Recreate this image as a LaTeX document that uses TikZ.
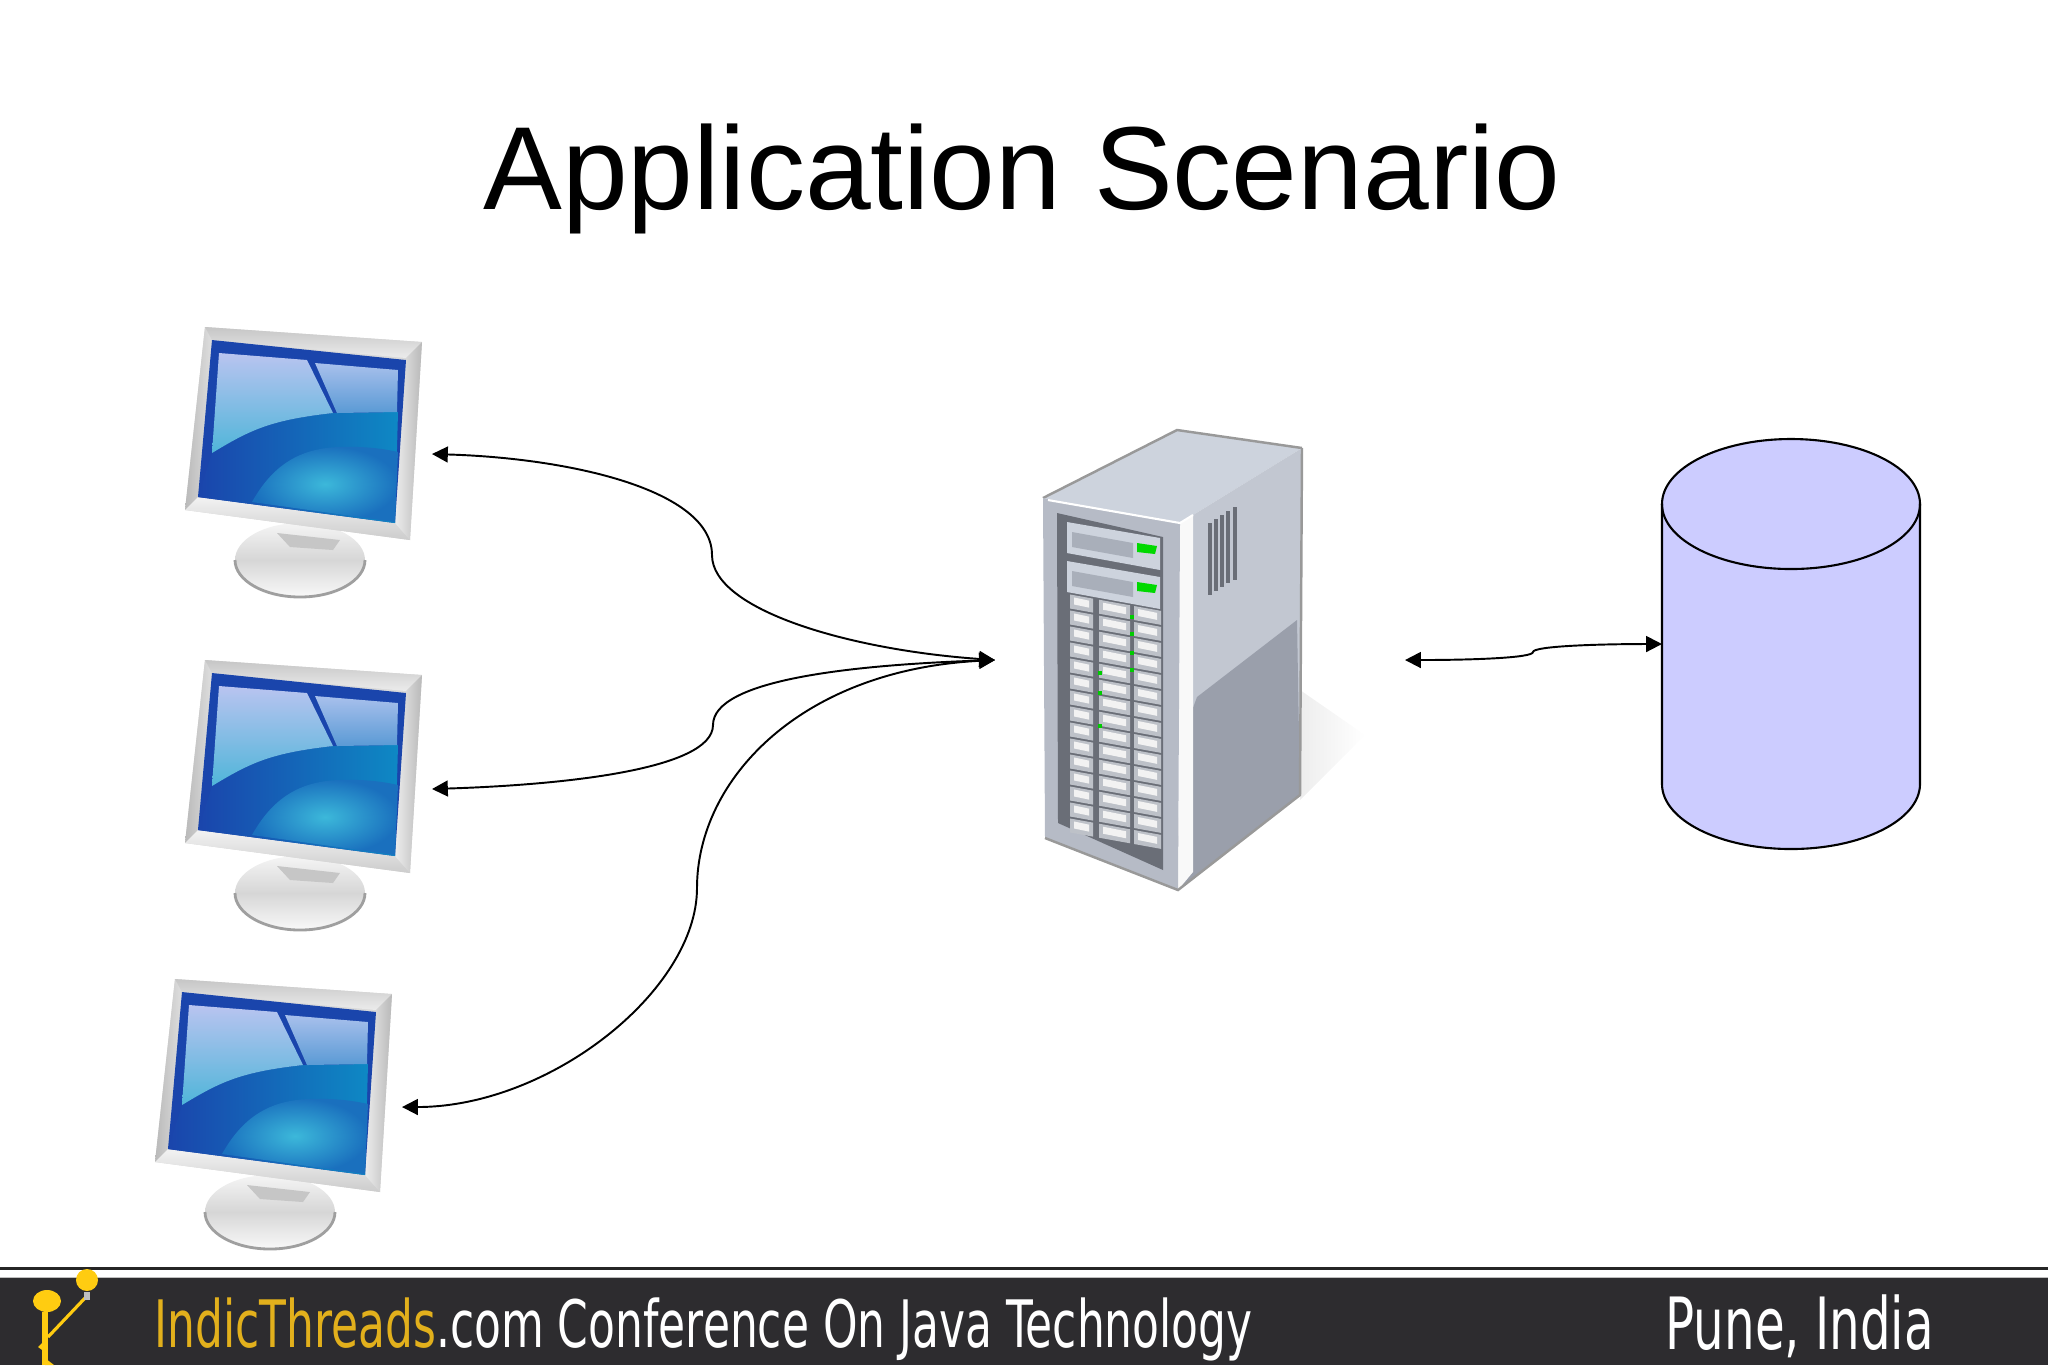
\documentclass[tikz,border=0pt]{standalone}
\usepackage{xcolor}
\usepackage{fontspec}
\setmainfont{Liberation Sans}
\newfontfamily\barfont{DejaVu Sans}
\usepackage{tikz}
\usetikzlibrary{calc, positioning, arrows.meta}

\definecolor{barbg}{HTML}{2D2C2F}
\definecolor{gold}{HTML}{E2B01C}
\definecolor{sun}{HTML}{FFCC11}
\definecolor{dbfill}{HTML}{CCCCFF}
\definecolor{navy}{HTML}{1A45AC}
\definecolor{teal}{HTML}{0E88C4}
\definecolor{srvtop}{HTML}{CDD3DD}
\definecolor{srvside}{HTML}{C2C7D1}
\definecolor{srvlow}{HTML}{9A9FAB}
\definecolor{srvfront}{HTML}{B6BBC6}
\definecolor{srvdark}{HTML}{6A6E77}
\definecolor{srvcell}{HTML}{BDC1C8}

\tikzset{
    link/.style={line width=0.55pt},
    bartext/.style={anchor=base west, inner sep=0pt, text=white, font=\barfont},
    pc/.pic={
        % foot
        \shade[top color=gray!8, bottom color=gray!5, middle color=gray!32] (300,560) ellipse (65 and 37);
        \draw[gray!75, line width=0.8pt] (235,560) arc (180:0:65 and 37);
        \fill[gray!45] (277,533) -- (340,540) -- (333,550) -- (290,547) -- cycle;
        % frame
        \fill[gray!30] (205,327) -- (422,342) -- (410,540) -- (185,510) -- cycle;
        \shade[left color=gray!55, right color=gray!15] (205,327) -- (222,340) -- (198,505) -- (185,510) -- cycle;
        \shade[top color=gray!45, bottom color=gray!15] (205,327) -- (422,342) -- (406,358) -- (212,340) -- cycle;
        \shade[top color=gray!10, bottom color=gray!40] (185,510) -- (198,497) -- (395,523) -- (410,540) -- cycle;
        \shade[left color=gray!15, right color=gray!55] (406,358) -- (422,342) -- (410,540) -- (395,523) -- cycle;
        % screen
        \fill[navy] (212,340) -- (406,360) -- (395,523) -- (198,497) -- cycle;
        \shade[left color=navy, right color=teal] (212,453) .. controls (250,430) and (270,420) .. (333,413) -- (398,412) -- (395,523) -- (198,497) -- cycle;
        \shade[top color={rgb,255:red,185;green,196;blue,240}, bottom color={rgb,255:red,79;green,181;blue,217}] (219,353) -- (307,360) -- (333,413) .. controls (270,420) and (250,430) .. (212,453) -- cycle;
        \shade[top color={rgb,255:red,168;green,192;blue,236}, bottom color={rgb,255:red,90;green,154;blue,213}] (315,363) -- (398,370) -- (397,412) -- (337,413) -- cycle;
        \shade[inner color={rgb,255:red,60;green,184;blue,218}, outer color={rgb,255:red,26;green,112;blue,190}] (252,502) .. controls (270,470) and (295,448) .. (340,447) .. controls (365,446) and (385,449) .. (398,452) -- (395,522) -- cycle;
    }
}

\begin{document}
\begin{tikzpicture}[x=0.01cm, y=-0.01cm, >={Triangle[length=4.5pt,width=4.5pt]}]
    \useasboundingbox (0,0) rectangle (2048,1365);

    % --- title ---
    \node[anchor=base, inner sep=0pt, font=\fontsize{33.6}{40}\selectfont] (title) at (1022,209) {Application Scenario};

    % --- computers ---
    \pic at (0,0) {pc};
    \pic at (0,333) {pc};
    \pic at (-30,652) {pc};

    % --- server ---
    \shade[left color=black!7, right color=white] (1300,690) -- (1365,735) -- (1300,800) -- cycle;
    \fill[srvtop] (1043,498) -- (1177,430) -- (1302,448) -- (1193,515) -- (1180,523) -- cycle;
    \draw[gray!80, line width=0.7pt] (1043,498) -- (1177,430) -- (1302,448);
    \fill[srvside] (1193,515) -- (1302,448) -- (1300,795) -- (1193,872) -- cycle;
    \fill[srvlow] (1297,620) -- (1197,697) -- (1180,743) -- (1178,890) -- (1300,795) -- cycle;
    \fill[gray!5] (1180,523) -- (1193,515) -- (1193,872) -- (1178,890) -- cycle;
    \fill[srvfront] (1043,498) -- (1180,523) -- (1178,890) -- (1045,838) -- cycle;
    \draw[white, line width=0.6pt] (1048,500) -- (1180,523) -- (1193,515);
    \draw[gray!80, line width=0.7pt] (1045,838) -- (1178,890) -- (1300,795) -- (1302,448);
    \fill[srvdark] (1057,513) -- (1163,537) -- (1163,870) -- (1058,823) -- cycle;
    % vents
    \foreach \vx/\vt/\vb in {1210/523/595, 1216/519/591, 1222/515/587, 1228/511/583, 1235/507/580}
        \draw[srvdark, line width=0.9pt] (\vx,\vt) -- (\vx,\vb);
    % bays
    \foreach \dy in {0,39} {
        \fill[srvtop] (1067,522+\dy) -- (1160,538+\dy) -- (1160,570+\dy) -- (1067,553+\dy) -- cycle;
        \fill[srvlow!70!srvtop] (1072,532+\dy) -- (1133,543+\dy) -- (1133,558+\dy) -- (1072,547+\dy) -- cycle;
        \fill[green!85!black] (1137,543+\dy) -- (1157,546+\dy) -- (1155,554+\dy) -- (1137,552+\dy) -- cycle;
    }
    % drives
    \foreach \cx/\cw in {1070/23, 1099/31, 1134/27}
        \foreach \row in {0,...,14} {
            \fill[srvcell] (\cx,595+\row*16+\cx*0.18-1073*0.18) -- ++(\cw,\cw*0.18) -- ++(0,14) -- ++(-\cw,-\cw*0.18) -- cycle;
            \fill[white!90!gray] (\cx+4,598+\row*16+\cx*0.18-1073*0.18) -- ++(\cw-8,\cw*0.18-1) -- ++(0,7) -- ++(-\cw+8,-\cw*0.18+1) -- cycle;
        }
    \foreach \lx/\ly in {1132/617, 1132/634, 1132/653, 1132/670, 1100/673, 1100/693, 1100/726}
        \fill[green!80!black] (\lx-2,\ly-2) rectangle (\lx+2,\ly+2);

    % --- database ---
    \def\dbx{1662} \def\dbw{1920}
    \filldraw[fill=dbfill, draw=black, line width=0.6pt] (\dbx,504) arc (180:360:129 and 65) -- (\dbw,784) arc (0:180:129 and 65) -- cycle;
    \draw[line width=0.6pt] (\dbx,504) arc (180:0:129 and 65);

    % --- ends of the links ---
    \coordinate (srv) at (995,660);
    \coordinate (srvr) at (1405,660);
    \coordinate (pca) at (432,454);
    \coordinate (pcb) at (432,789);
    \coordinate (pcc) at (402,1107);
    \coordinate (dbin) at (1662,644);

    \draw[link, <->] (pca) .. controls (570,458) and (712,490) .. (712,555) .. controls (712,610) and (850,650) .. (srv);
    \draw[link, <->] (pcb) .. controls (560,785) and (713,770) .. (713,725) .. controls (713,680) and (850,665) .. (srv);
    \draw[link, <->] (pcc) .. controls (550,1107) and (697,990) .. (697,888) .. controls (697,780) and (800,670) .. (srv);
    \draw[link, <->] (srvr) .. controls (1470,660) and (1533,658) .. (1533,652) .. controls (1533,646) and (1600,644) .. (dbin);

    % --- footer ---
    \fill[black!85] (0,1267) rectangle (2048,1270);
    \fill[barbg] (0,1278) rectangle (2048,1365);
    \draw[gray!50, line width=0.4pt] (0,1277.5) -- (2048,1277.5);
    \fill[sun] (47,1301) ellipse (14 and 11);
    \draw[sun, line width=1.5pt] (45,1312) -- (45,1365);
    \draw[sun, line width=0.9pt] (48,1337) -- (85,1298);
    \fill[sun] (87,1280) circle (11);
    \fill[gray!50] (84,1292) rectangle (90,1300);
    \fill[sun] (38,1347) -- (45,1340) -- (45,1352) -- cycle;
    \fill[sun] (45,1358) -- (54,1365) -- (45,1365) -- cycle;
    \node[bartext, xscale=0.672] (conf) at (154,1347) {\fontsize{18.6}{22}\selectfont{\color{gold}IndicThreads}.com Conference On Java Technology};
    \node[bartext, xscale=0.67] (place) at (1665,1349) {\fontsize{20.5}{25}\selectfont Pune, India};
\end{tikzpicture}
\end{document}
